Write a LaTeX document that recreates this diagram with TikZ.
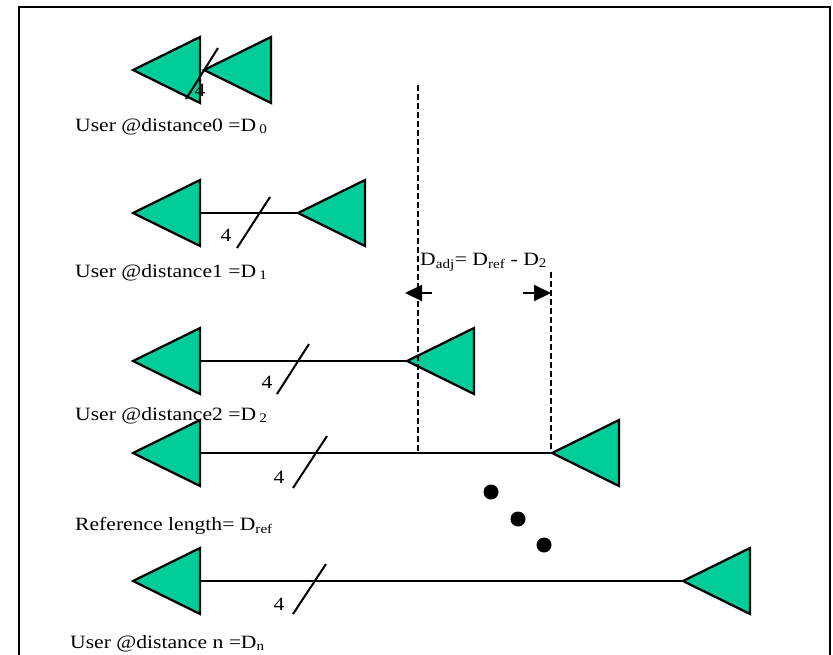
\documentclass[tikz,border=0pt]{standalone}
\usepackage{fontspec}
\setmainfont{Liberation Serif}[FakeStretch=1.15]
\usetikzlibrary{shapes.geometric, arrows.meta, calc, positioning}
\definecolor{antgreen}{RGB}{0,204,153}

\begin{document}
\begin{tikzpicture}[x=1pt, y=-1pt, >={Triangle[length=17pt, width=16pt]}]
        \tikzstyle{ant}=[isosceles triangle, isosceles triangle stretches, shape border rotate=180, draw, fill=antgreen, line width=2.2pt, minimum width=66pt, minimum height=67pt, inner sep=0pt, outer sep=0pt, anchor=apex]
        \tikzstyle{wire}=[line width=2pt]
        \tikzstyle{guide}=[line width=1.5pt, dash pattern=on 6pt off 3pt]
        \tikzstyle{txt}=[inner sep=0pt, font=\fontsize{18.8}{20}\selectfont]
        \tikzstyle{dot}=[circle, fill, inner sep=0pt, minimum size=15pt]

        \useasboundingbox (0,0) rectangle (833,654);
        % Frame
        \draw[line width=2pt] (19,660) -- (19,7) -- (830,7) -- (830,660);

        % User at distance 0
        \node[ant] (a0) at (133,70) {};
        \node[ant] (b0) at (204,70) {};
        \coordinate (s0) at (204,70);
        \draw[wire] ($(s0)+(14,-22)$) -- ($(s0)+(-18,29)$);
        \node[txt] (k0) at (200,90) {4};
        \node[txt, anchor=base west] (u0) at (75,131) {User @distance0 =D\,\textsubscript{0}};

        % User at distance 1
        \node[ant] (a1) at (133,213) {};
        \node[ant] (b1) at (298,213) {};
        \draw[wire] (a1.lower side) -- (b1.apex);
        \coordinate (s1) at (260,213);
        \draw[wire] ($(s1)+(10,-16)$) -- ($(s1)+(-23,35)$);
        \node[txt] (k1) at (226,235) {4};
        \node[txt, anchor=base west] (u1) at (75,277) {User @distance1 =D\,\textsubscript{1}};

        % User at distance 2
        \node[ant] (a2) at (133,361) {};
        \node[ant] (b2) at (407,361) {};
        \draw[wire] (a2.lower side) -- (b2.apex);
        \coordinate (s2) at (298,361);
        \draw[wire] ($(s2)+(11,-17)$) -- ($(s2)+(-21,33)$);
        \node[txt] (k2) at (267,382) {4};
        \node[txt, anchor=base west] (u2) at (75,420) {User @distance2 =D\,\textsubscript{2}};

        % Reference length
        \node[ant] (ar) at (133,453) {};
        \node[ant] (br) at (552,453) {};
        \draw[wire] (ar.lower side) -- (br.apex);
        \coordinate (sr) at (316,453);
        \draw[wire] ($(sr)+(11,-17)$) -- ($(sr)+(-23,35)$);
        \node[txt] (kr) at (279,477) {4};
        \node[txt, anchor=base west] (ur) at (75,530) {Reference length= D\textsubscript{ref}};

        % Dots
        \node[dot] (d1) at (491,492) {};
        \node[dot] (d2) at (518,519) {};
        \node[dot] (d3) at (544,545) {};

        % User at distance n
        \node[ant] (an) at (133,581) {};
        \node[ant] (bn) at (683,581) {};
        \draw[wire] (an.lower side) -- (bn.apex);
        \coordinate (sn) at (315,581);
        \draw[wire] ($(sn)+(11,-17)$) -- ($(sn)+(-22,33)$);
        \node[txt] (kn) at (279,604) {4};
        \node[txt, anchor=base west] (un) at (70,648) {User @distance n =D\textsubscript{n}};

        % Adjustment guides
        \coordinate (gl) at (418,85);
        \coordinate (gr) at (551,272);
        \draw[guide] (gl) -- (gl |- br.apex);
        \draw[guide] (gr) -- (gr |- br.apex);
        \coordinate (al) at (432,293);
        \coordinate (ar2) at (523,293);
        \draw[wire, ->] (al) -- (405,293);
        \draw[wire, ->] (ar2) -- (551,293);
        \node[txt, anchor=base west] (adj) at (420,265) {D\textsubscript{adj}= D\textsubscript{ref} - D\textsubscript{2}};
\end{tikzpicture}
\end{document}
